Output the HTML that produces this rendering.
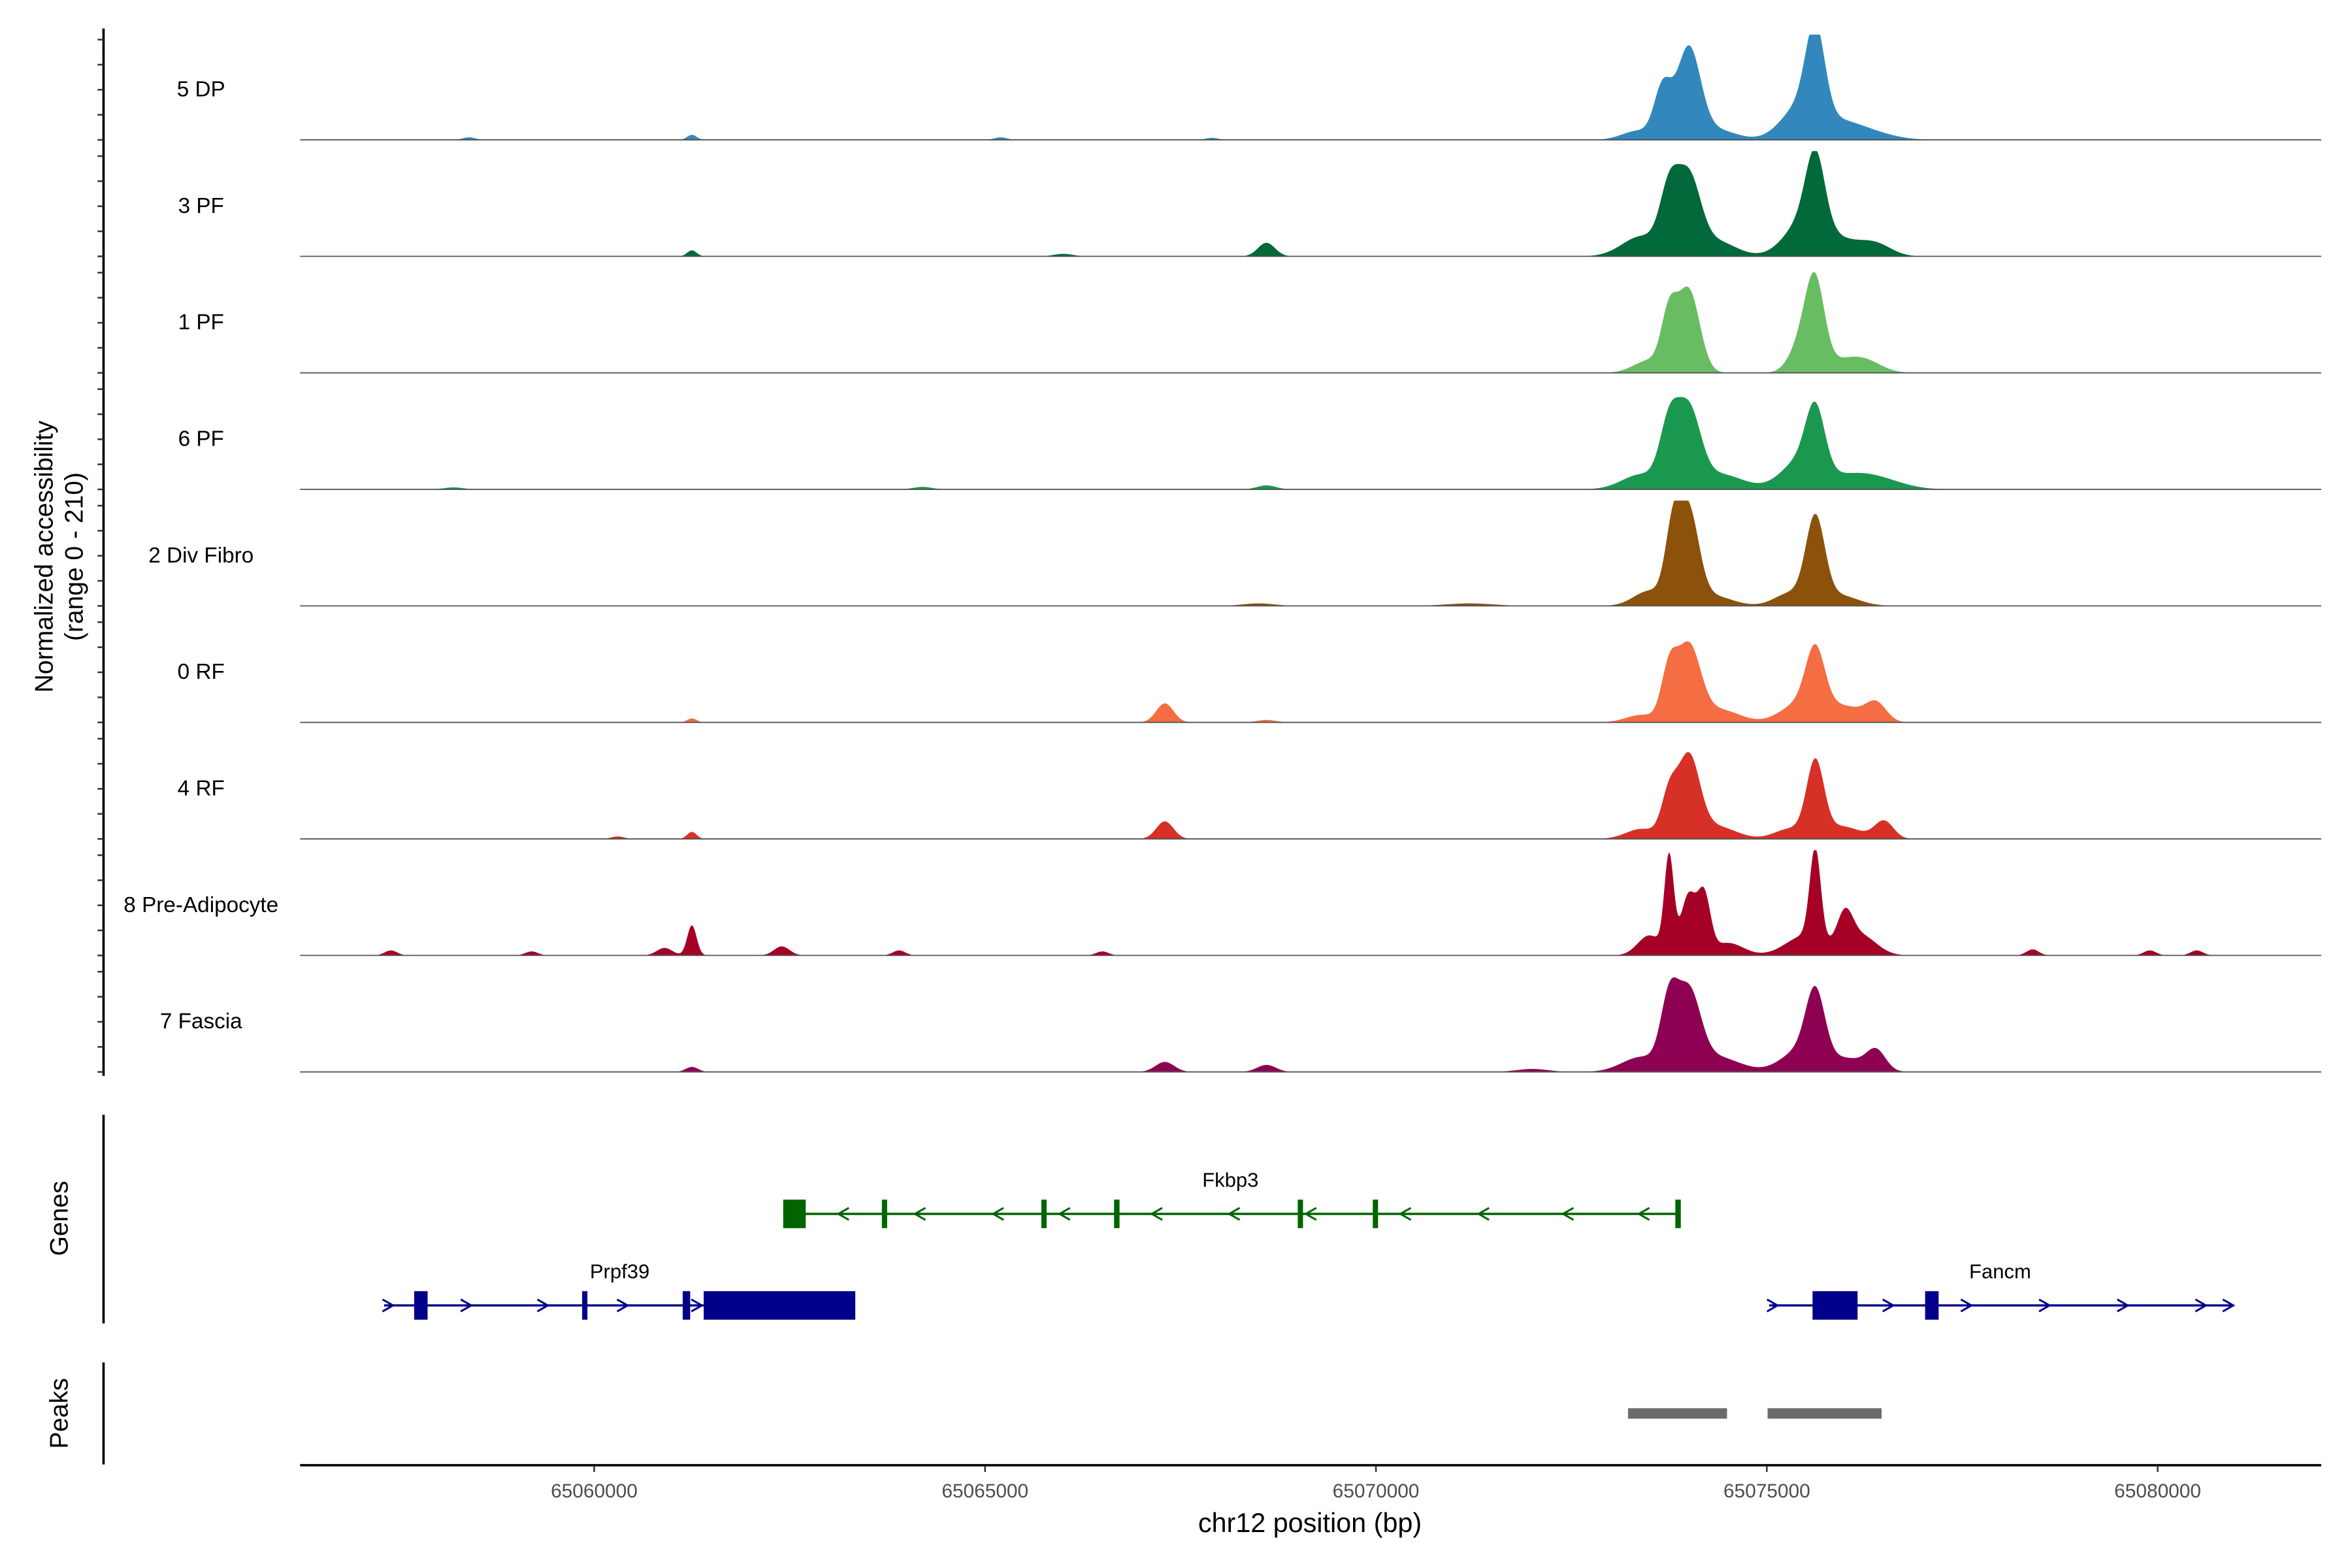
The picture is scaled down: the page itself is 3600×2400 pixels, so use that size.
<!DOCTYPE html>
<html><head><meta charset="utf-8"><style>
html,body{margin:0;padding:0;background:#fff}
svg{display:block}
text{font-family:"Liberation Sans",Arial,sans-serif}
</style></head><body>
<svg id="chart" width="3600" height="2400" viewBox="0 0 1567.5 1045" xmlns="http://www.w3.org/2000/svg">
<rect width="1567.5" height="1045" fill="#fff"/>
<g id="tracks"></g>
<g id="genes"></g>
<g id="peaks"></g>
<g id="axes"></g>
<text transform="translate(35,371) rotate(-90)" text-anchor="middle" font-size="17" fill="#000">Normalized accessibility</text>
<text transform="translate(55,371) rotate(-90)" text-anchor="middle" font-size="17" fill="#000">(range 0 - 210)</text>
<text transform="translate(45,812) rotate(-90)" text-anchor="middle" font-size="17" fill="#000">Genes</text>
<text transform="translate(45,942) rotate(-90)" text-anchor="middle" font-size="17" fill="#000">Peaks</text>
<text x="873" y="1021" text-anchor="middle" font-size="18" fill="#000">chr12 position (bp)</text>
</svg>
<script>
// ---- data ----
const trackNames = ["5 DP","3 PF","1 PF","6 PF","2 Div Fibro","0 RF","4 RF","8 Pre-Adipocyte","7 Fascia"];
const trackColors = ["#3288BD","#02693A","#68BD62","#1A9850","#8C510A","#F46D43","#D73027","#A50026","#8E0152"];
// peak positions (kb offset from 65,000,000), heights (0-210), widths (bp)
const peakPos = [
 [73.35,73.67,74.0,74.35,75.45,75.62,75.95,76.3,61.25,58.4,65.2,67.9],
 [73.4,73.75,74.0,74.35,75.5,75.62,76.0,76.4,68.6,61.25,66.0],
 [73.5,73.75,74.0,75.45,75.62,76.0,76.3],
 [73.4,73.75,74.0,74.4,75.45,75.62,76.1,76.5,68.6,64.2,58.2],
 [73.5,73.8,74.0,74.3,75.3,75.62,75.9,71.2,68.5],
 [73.4,73.75,74.0,74.4,75.45,75.62,76.0,76.4,67.3,61.25,68.6],
 [73.4,73.75,74.0,74.35,75.3,75.62,75.95,76.5,67.3,61.25,60.3],
 [73.5,73.75,74.0,74.2,74.5,75.5,75.62,76.0,76.2,61.25,60.9,62.4,63.9,57.4,78.4,79.9,80.5,59.2,66.5],
 [73.4,73.75,74.0,74.35,75.45,75.62,76.05,76.4,67.3,68.6,61.25,72.0]
];
const peakHeights = [
 [18,100,180,20,70,170,25,15,10,5,5,4],
 [40,115,150,30,75,140,25,22,27,12,5],
 [25,105,165,60,160,25,15],
 [30,115,150,30,60,120,25,14,8,5,4],
 [30,135,180,20,25,165,22,5,5],
 [15,95,150,25,40,115,30,35,38,8,5],
 [20,80,160,25,20,145,25,35,35,14,5],
 [40,190,120,110,25,40,180,65,40,60,15,18,10,10,12,10,10,8,8],
 [30,125,150,30,45,130,25,38,20,14,10,6]
];
const peakWidths = [
 [200,110,150,250,250,120,250,300,60,80,80,80],
 [250,120,150,250,250,120,250,200,110,60,120],
 [200,100,140,150,120,250,200],
 [250,120,150,300,250,120,300,300,120,120,120],
 [200,100,130,250,200,120,250,300,200],
 [200,100,150,250,250,120,250,130,110,60,120],
 [200,100,140,250,200,110,250,120,110,60,80],
 [150,60,100,80,200,250,70,100,200,60,100,100,80,80,80,80,80,80,80],
 [250,110,150,300,250,120,250,120,120,120,80,200]
];
const xTicks = [65060000,65065000,65070000,65075000,65080000];
const yTicks = [0,50,100,150,200];
// genes (bp offsets in kb from 65,000,000)
const geneNames = ["Fkbp3","Prpf39","Fancm"];
const geneStart = [62.418,57.313,75.029];
const geneEnd = [73.86,63.34,80.94];
const geneStrand = [-1,1,1];
const geneRow = [0,1,1];
const geneColors = ["#006400","#00008B","#00008B"];
const geneExons = [
 [[62.418,62.706],[63.68,63.73],[65.72,65.76],[66.65,66.72],[69.0,69.05],[69.96,70.01],[73.83,73.9]],
 [[57.697,57.869],[59.846,59.904],[61.132,61.228],[61.401,63.34]],
 [[75.585,76.161],[77.025,77.198]]
];
const geneArrows = [
 [63.19,64.17,65.17,66.02,67.2,68.19,69.17,70.38,71.38,72.46,73.43],
 [57.36,58.36,59.34,60.36,61.31],
 [75.07,76.55,77.55,78.55,79.55,80.55,80.9]
];
const peakStart = [73.225,75.01];
const peakEnd = [74.491,76.468];

// ---- scales ----
const NS="http://www.w3.org/2000/svg";
const X0=200,X1=1547;
function xs(bp){return 396+(bp-65060000)*0.0521;}
function xk(kb){return xs(65000000+kb*1000);}
const base0=93.2,pitch=77.65,yk=0.334;
function ys(i,v){return base0+i*pitch-v*yk;}
function mk(tag,attrs,parent){const e=document.createElementNS(NS,tag);for(const k in attrs)e.setAttribute(k,attrs[k]);parent.appendChild(e);return e;}

const gT=document.getElementById('tracks');
trackNames.forEach((name,i)=>{
  const g=mk('g',{},gT);
  
  
  let d='M'+X0+','+ys(i,0);
  for(let px=X0;px<=X1;px+=0.5){
    const bp=65060000+(px-396)/0.0521;
    let v=0;
    for(let k=0;k<peakPos[i].length;k++){
      const c=65000000+peakPos[i][k]*1000, s=peakWidths[i][k];
      const z=(bp-c)/s; if(Math.abs(z)<5) v+=peakHeights[i][k]*Math.exp(-0.5*z*z);
    }
    v=Math.min(v,210);
    d+=' L'+px.toFixed(1)+','+ys(i,v).toFixed(2);
  }
  d+=' L'+X1+','+ys(i,0)+' Z';
  const p=mk('path',{d:d,fill:trackColors[i]},g);
  
  
  const l=mk('line',{x1:X0,x2:X1,y1:ys(i,0),y2:ys(i,0),stroke:'#555','stroke-width':0.8},g);
  
  
  const t=mk('text',{x:134,y:ys(i,0)-29,'text-anchor':'middle','font-size':14.5,fill:'#000'},g);
  t.textContent=name;
  
  
});

const gA=document.getElementById('axes');
let a=mk('line',{x1:69,x2:69,y1:19,y2:717,stroke:'#000','stroke-width':1.6},gA);


trackNames.forEach((n,i)=>{
  yTicks.forEach(v=>{
    const t=mk('line',{x1:65,x2:69,y1:ys(i,v),y2:ys(i,v),stroke:'#333','stroke-width':1.1},gA);
    
    
  });
});
a=mk('line',{x1:69,x2:69,y1:743,y2:882,stroke:'#000','stroke-width':1.6},gA);


a=mk('line',{x1:69,x2:69,y1:908,y2:976,stroke:'#000','stroke-width':1.6},gA);


a=mk('line',{x1:X0,x2:X1,y1:976.5,y2:976.5,stroke:'#000','stroke-width':1.6},gA);


xTicks.forEach(v=>{
  const t=mk('line',{x1:xs(v),x2:xs(v),y1:977,y2:981,stroke:'#333','stroke-width':1.1},gA);
  
  
  const tl=mk('text',{x:xs(v),y:998,'text-anchor':'middle','font-size':13,fill:'#4d4d4d'},gA);
  tl.textContent=String(v);
  
  
});

const gG=document.getElementById('genes');
geneNames.forEach((name,i)=>{
  const yc=geneRow[i]===0?809:870;
  const col=geneColors[i];
  const g=mk('g',{},gG);
  
  
  mk('line',{x1:xk(geneStart[i]),x2:xk(geneEnd[i]),y1:yc,y2:yc,stroke:col,'stroke-width':1.5},g);
  geneArrows[i].forEach(k=>{
    const x=xk(k),dx=3.5*geneStrand[i];
    const ar=mk('path',{d:`M${x-dx},${yc-4} L${x+dx},${yc} L${x-dx},${yc+4}`,fill:'none',stroke:col,'stroke-width':1.3},g);
    
    
  });
  geneExons[i].forEach(e=>{
    const x1=xk(e[0]),x2=xk(e[1]);
    const r=mk('rect',{x:x1,y:yc-9.5,width:Math.max(x2-x1,3.5),height:19,fill:col},g);
    
    
  });
  const t=mk('text',{x:(xk(geneStart[i])+xk(geneEnd[i]))/2,y:yc-18,'text-anchor':'middle','font-size':13.5,fill:'#000'},g);
  t.textContent=name;
  
  
});

const gP=document.getElementById('peaks');
peakStart.forEach((s,i)=>{
  const r=mk('rect',{x:xk(s),y:938.5,width:xk(peakEnd[i])-xk(s),height:7,fill:'#6b6b6b'},gP);
  
  
});
</script>
</body></html>
